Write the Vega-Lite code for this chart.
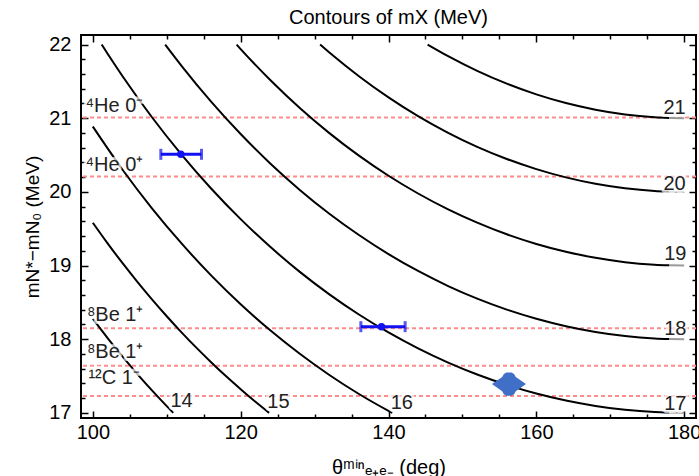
{
  "$schema": "https://vega.github.io/schema/vega-lite/v6.json",
  "width": 615,
  "height": 383,
  "autosize": "none",
  "padding": {"left": 81, "top": 35, "right": 3, "bottom": 58},
  "title": {"text": "Contours of mX (MeV)", "font": "Liberation Sans", "fontSize": 20, "fontWeight": "normal", "color": "black", "offset": 6, "anchor": "middle"},
  "config": {"view": {"stroke": "black", "strokeWidth": 2}},
  "datasets": {
    "levels": [
      {"state": "4He 0-", "E": 21.01},
      {"state": "4He 0+", "E": 20.21},
      {"state": "8Be 1+ a", "E": 18.15},
      {"state": "8Be 1+ b", "E": 17.64},
      {"state": "12C 1-", "E": 17.23}
    ],
    "curves": [
      {"m": 14, "part": "a", "theta": 100, "E": 18.276}, {"m": 14, "part": "a", "theta": 102, "E": 18.015}, {"m": 14, "part": "a", "theta": 104, "E": 17.766}, {"m": 14, "part": "a", "theta": 106, "E": 17.530}, {"m": 14, "part": "a", "theta": 108, "E": 17.305}, {"m": 14, "part": "a", "theta": 110, "E": 17.091}, {"m": 14, "part": "a", "theta": 110.88, "E": 17.0},
      {"m": 15, "part": "a", "theta": 100, "E": 19.581}, {"m": 15, "part": "a", "theta": 102, "E": 19.301}, {"m": 15, "part": "a", "theta": 104, "E": 19.035}, {"m": 15, "part": "a", "theta": 106, "E": 18.782}, {"m": 15, "part": "a", "theta": 108, "E": 18.541}, {"m": 15, "part": "a", "theta": 110, "E": 18.312}, {"m": 15, "part": "a", "theta": 112, "E": 18.093}, {"m": 15, "part": "a", "theta": 114, "E": 17.885}, {"m": 15, "part": "a", "theta": 116, "E": 17.688}, {"m": 15, "part": "a", "theta": 118, "E": 17.499}, {"m": 15, "part": "a", "theta": 120, "E": 17.321}, {"m": 15, "part": "a", "theta": 122, "E": 17.150}, {"m": 15, "part": "a", "theta": 123.85, "E": 17.0},
      {"m": 16, "part": "a", "theta": 100, "E": 20.887}, {"m": 16, "part": "a", "theta": 104, "E": 20.304}, {"m": 16, "part": "a", "theta": 108, "E": 19.777}, {"m": 16, "part": "a", "theta": 112, "E": 19.300}, {"m": 16, "part": "a", "theta": 116, "E": 18.867}, {"m": 16, "part": "a", "theta": 120, "E": 18.475}, {"m": 16, "part": "a", "theta": 124, "E": 18.121}, {"m": 16, "part": "a", "theta": 128, "E": 17.802}, {"m": 16, "part": "a", "theta": 132, "E": 17.514}, {"m": 16, "part": "a", "theta": 136, "E": 17.256}, {"m": 16, "part": "a", "theta": 140, "E": 17.027}, {"m": 16, "part": "a", "theta": 140.5, "E": 17.0},
      {"m": 17, "part": "a", "theta": 101.2, "E": 22.0}, {"m": 17, "part": "a", "theta": 102, "E": 21.875}, {"m": 17, "part": "a", "theta": 104, "E": 21.573}, {"m": 17, "part": "a", "theta": 108, "E": 21.013}, {"m": 17, "part": "a", "theta": 112, "E": 20.506}, {"m": 17, "part": "a", "theta": 116, "E": 20.046}, {"m": 17, "part": "a", "theta": 120, "E": 19.630}, {"m": 17, "part": "a", "theta": 124, "E": 19.254}, {"m": 17, "part": "a", "theta": 128, "E": 18.914}, {"m": 17, "part": "a", "theta": 132, "E": 18.609}, {"m": 17, "part": "a", "theta": 136, "E": 18.335}, {"m": 17, "part": "a", "theta": 140, "E": 18.091}, {"m": 17, "part": "a", "theta": 144, "E": 17.875}, {"m": 17, "part": "a", "theta": 148, "E": 17.685}, {"m": 17, "part": "a", "theta": 152, "E": 17.520}, {"m": 17, "part": "a", "theta": 156, "E": 17.380}, {"m": 17, "part": "a", "theta": 160, "E": 17.262}, {"m": 17, "part": "a", "theta": 164, "E": 17.167}, {"m": 17, "part": "a", "theta": 168, "E": 17.094}, {"m": 17, "part": "a", "theta": 172, "E": 17.041}, {"m": 17, "part": "a", "theta": 176, "E": 17.010}, {"m": 17, "part": "a", "theta": 178, "E": 17.003}, {"m": 17, "part": "b", "theta": 178, "E": 17.003}, {"m": 17, "part": "b", "theta": 180, "E": 17.0},
      {"m": 18, "part": "a", "theta": 109.79, "E": 22.0}, {"m": 18, "part": "a", "theta": 112, "E": 21.712}, {"m": 18, "part": "a", "theta": 116, "E": 21.225}, {"m": 18, "part": "a", "theta": 120, "E": 20.785}, {"m": 18, "part": "a", "theta": 124, "E": 20.386}, {"m": 18, "part": "a", "theta": 128, "E": 20.027}, {"m": 18, "part": "a", "theta": 132, "E": 19.703}, {"m": 18, "part": "a", "theta": 136, "E": 19.414}, {"m": 18, "part": "a", "theta": 140, "E": 19.155}, {"m": 18, "part": "a", "theta": 144, "E": 18.926}, {"m": 18, "part": "a", "theta": 148, "E": 18.725}, {"m": 18, "part": "a", "theta": 152, "E": 18.551}, {"m": 18, "part": "a", "theta": 156, "E": 18.402}, {"m": 18, "part": "a", "theta": 160, "E": 18.278}, {"m": 18, "part": "a", "theta": 164, "E": 18.177}, {"m": 18, "part": "a", "theta": 168, "E": 18.099}, {"m": 18, "part": "a", "theta": 172, "E": 18.044}, {"m": 18, "part": "a", "theta": 176, "E": 18.011}, {"m": 18, "part": "a", "theta": 178, "E": 18.003}, {"m": 18, "part": "b", "theta": 178, "E": 18.003}, {"m": 18, "part": "b", "theta": 180, "E": 18.0},
      {"m": 19, "part": "a", "theta": 119.45, "E": 22.0}, {"m": 19, "part": "a", "theta": 120, "E": 21.939}, {"m": 19, "part": "a", "theta": 124, "E": 21.519}, {"m": 19, "part": "a", "theta": 128, "E": 21.139}, {"m": 19, "part": "a", "theta": 132, "E": 20.798}, {"m": 19, "part": "a", "theta": 136, "E": 20.492}, {"m": 19, "part": "a", "theta": 140, "E": 20.219}, {"m": 19, "part": "a", "theta": 144, "E": 19.978}, {"m": 19, "part": "a", "theta": 148, "E": 19.766}, {"m": 19, "part": "a", "theta": 152, "E": 19.582}, {"m": 19, "part": "a", "theta": 156, "E": 19.424}, {"m": 19, "part": "a", "theta": 160, "E": 19.293}, {"m": 19, "part": "a", "theta": 164, "E": 19.187}, {"m": 19, "part": "a", "theta": 168, "E": 19.105}, {"m": 19, "part": "a", "theta": 172, "E": 19.046}, {"m": 19, "part": "a", "theta": 176, "E": 19.012}, {"m": 19, "part": "a", "theta": 178, "E": 19.003}, {"m": 19, "part": "b", "theta": 178, "E": 19.003}, {"m": 19, "part": "b", "theta": 180, "E": 19.0},
      {"m": 20, "part": "a", "theta": 130.75, "E": 22.0}, {"m": 20, "part": "a", "theta": 132, "E": 21.893}, {"m": 20, "part": "a", "theta": 136, "E": 21.571}, {"m": 20, "part": "a", "theta": 140, "E": 21.284}, {"m": 20, "part": "a", "theta": 144, "E": 21.029}, {"m": 20, "part": "a", "theta": 148, "E": 20.806}, {"m": 20, "part": "a", "theta": 152, "E": 20.612}, {"m": 20, "part": "a", "theta": 156, "E": 20.447}, {"m": 20, "part": "a", "theta": 160, "E": 20.309}, {"m": 20, "part": "a", "theta": 164, "E": 20.197}, {"m": 20, "part": "a", "theta": 168, "E": 20.110}, {"m": 20, "part": "a", "theta": 172, "E": 20.049}, {"m": 20, "part": "a", "theta": 176, "E": 20.012}, {"m": 20, "part": "a", "theta": 178, "E": 20.003}, {"m": 20, "part": "b", "theta": 178, "E": 20.003}, {"m": 20, "part": "b", "theta": 180, "E": 20.0},
      {"m": 21, "part": "a", "theta": 145.29, "E": 22.0}, {"m": 21, "part": "a", "theta": 148, "E": 21.846}, {"m": 21, "part": "a", "theta": 152, "E": 21.643}, {"m": 21, "part": "a", "theta": 156, "E": 21.469}, {"m": 21, "part": "a", "theta": 160, "E": 21.324}, {"m": 21, "part": "a", "theta": 164, "E": 21.206}, {"m": 21, "part": "a", "theta": 168, "E": 21.116}, {"m": 21, "part": "a", "theta": 172, "E": 21.051}, {"m": 21, "part": "a", "theta": 176, "E": 21.013}, {"m": 21, "part": "a", "theta": 178, "E": 21.003}, {"m": 21, "part": "b", "theta": 178, "E": 21.003}, {"m": 21, "part": "b", "theta": 180, "E": 21.0}
    ],
    "labels": [
      {"lab": "14", "theta": 110.5, "E": 17.077},
      {"lab": "15", "theta": 123.6, "E": 17.06},
      {"lab": "16", "theta": 140.3, "E": 17.05},
      {"lab": "17", "theta": 177.3, "E": 17.04},
      {"lab": "18", "theta": 177.3, "E": 18.06},
      {"lab": "19", "theta": 177.3, "E": 19.07},
      {"lab": "20", "theta": 177.2, "E": 20.03},
      {"lab": "21", "theta": 177.2, "E": 21.06},
      {"lab": "⁴He 0⁻", "theta": 99.0, "E": 21.08},
      {"lab": "⁴He 0⁺", "theta": 99.0, "E": 20.29},
      {"lab": "⁸Be 1⁺", "theta": 99.2, "E": 18.25},
      {"lab": "⁸Be 1⁺", "theta": 99.2, "E": 17.74},
      {"lab": "¹²C 1⁻", "theta": 99.4, "E": 17.39}
    ],
    "measurements": [
      {"nucleus": "4He", "theta": 111.9, "E": 20.51, "lo": 109.2, "hi": 114.7},
      {"nucleus": "8Be", "theta": 139.05, "E": 18.17, "lo": 136.26, "hi": 142.25}
    ],
    "carbon": [
      {"nucleus": "12C", "theta": 156.3, "E": 17.39}
    ]
  },
  "resolve": {"axis": {"x": "independent", "y": "independent"}},
  "layer": [
    {
      "data": {"name": "levels"},
      "mark": {"type": "rule", "color": "#ff8c8c", "strokeWidth": 2, "strokeDash": [4, 3]},
      "encoding": {
        "y": {"field": "E", "type": "quantitative", "scale": {"domain": [16.93, 22.13], "nice": false, "zero": false}, "axis": null}
      }
    },
    {
      "data": {"name": "curves"},
      "mark": {"type": "line", "strokeWidth": 2, "interpolate": "monotone", "clip": true},
      "encoding": {
        "x": {"field": "theta", "type": "quantitative", "scale": {"domain": [98.4, 181.6], "nice": false, "zero": false},
          "axis": {"orient": "bottom", "values": [100,105,110,115,120,125,130,135,140,145,150,155,160,165,170,175,180],
            "format": ".0f",
            "labelExpr": "datum.value % 20 === 0 ? datum.label : ''",
            "tickSize": {"condition": {"test": "datum.value % 20 === 0", "value": -7}, "value": -4},
            "domain": false, "grid": false, "tickColor": "black", "tickWidth": 1.5,
            "labelFont": "Liberation Sans", "labelFontSize": 20, "labelColor": "black", "labelPadding": 11, "labelFlush": false, "labelOverlap": false,
            "title": "θᵐⁱⁿₑ₊ₑ₋ (deg)", "titleFont": "Liberation Sans", "titleFontSize": 20, "titleFontWeight": "normal", "titleColor": "black", "titlePadding": 12}},
        "y": {"field": "E", "type": "quantitative", "scale": {"domain": [16.93, 22.13], "nice": false, "zero": false},
          "axis": {"orient": "left", "values": [17,17.2,17.4,17.6,17.8,18,18.2,18.4,18.6,18.8,19,19.2,19.4,19.6,19.8,20,20.2,20.4,20.6,20.8,21,21.2,21.4,21.6,21.8,22],
            "format": ".0f",
            "labelExpr": "abs(datum.value - round(datum.value)) < 0.001 ? datum.label : ''",
            "tickSize": {"condition": {"test": "abs(datum.value - round(datum.value)) < 0.001", "value": -7}, "value": -4},
            "domain": false, "grid": false, "tickColor": "black", "tickWidth": 1.5,
            "labelFont": "Liberation Sans", "labelFontSize": 20, "labelColor": "black", "labelPadding": 17, "labelOverlap": false, "labelFlush": false,
            "title": "mN*−mN₀ (MeV)", "titleFont": "Liberation Sans", "titleFontSize": 19, "titleFontWeight": "normal", "titleColor": "black", "titlePadding": 6}},
        "detail": {"field": "m", "type": "nominal"},
        "color": {"field": "part", "type": "nominal", "scale": {"domain": ["a", "b"], "range": ["black", "#9a9a9a"]}, "legend": null}
      }
    },
    {
      "data": {"name": "labels"},
      "mark": {"type": "text", "align": "left", "baseline": "alphabetic", "font": "Liberation Sans", "fontSize": 20, "fill": "white", "stroke": "white", "strokeWidth": 6, "opacity": 0.7, "strokeJoin": "round"},
      "encoding": {
        "x": {"field": "theta", "type": "quantitative", "axis": null},
        "y": {"field": "E", "type": "quantitative", "axis": null},
        "text": {"field": "lab", "type": "nominal"}
      }
    },
    {
      "data": {"name": "labels"},
      "mark": {"type": "text", "align": "left", "baseline": "alphabetic", "font": "Liberation Sans", "fontSize": 20, "color": "#222222"},
      "encoding": {
        "x": {"field": "theta", "type": "quantitative",
          "axis": {"orient": "top", "values": [100,105,110,115,120,125,130,135,140,145,150,155,160,165,170,175,180],
            "labels": false, "title": null, "domain": false, "grid": false, "tickColor": "black", "tickWidth": 1.5,
            "tickSize": {"condition": {"test": "datum.value % 20 === 0", "value": -7}, "value": -4}}},
        "y": {"field": "E", "type": "quantitative",
          "axis": {"orient": "right", "values": [17,17.2,17.4,17.6,17.8,18,18.2,18.4,18.6,18.8,19,19.2,19.4,19.6,19.8,20,20.2,20.4,20.6,20.8,21,21.2,21.4,21.6,21.8,22],
            "labels": false, "title": null, "domain": false, "grid": false, "tickColor": "black", "tickWidth": 1.5,
            "tickSize": {"condition": {"test": "abs(datum.value - round(datum.value)) < 0.001", "value": -7}, "value": -4}}},
        "text": {"field": "lab", "type": "nominal"}
      }
    },
    {
      "data": {"name": "measurements"},
      "mark": {"type": "rule", "color": "#1010f0", "strokeWidth": 3},
      "encoding": {
        "x": {"field": "lo", "type": "quantitative", "axis": null},
        "x2": {"field": "hi"},
        "y": {"field": "E", "type": "quantitative", "axis": null}
      }
    },
    {
      "data": {"name": "measurements"},
      "mark": {"type": "tick", "orient": "vertical", "color": "#1010f0", "thickness": 3, "size": 11},
      "encoding": {
        "x": {"field": "lo", "type": "quantitative", "axis": null},
        "y": {"field": "E", "type": "quantitative", "axis": null}
      }
    },
    {
      "data": {"name": "measurements"},
      "mark": {"type": "tick", "orient": "vertical", "color": "#1010f0", "thickness": 3, "size": 11},
      "encoding": {
        "x": {"field": "hi", "type": "quantitative", "axis": null},
        "y": {"field": "E", "type": "quantitative", "axis": null}
      }
    },
    {
      "data": {"name": "measurements"},
      "mark": {"type": "point", "shape": "circle", "filled": true, "color": "#1010f0", "size": 55, "opacity": 1},
      "encoding": {
        "x": {"field": "theta", "type": "quantitative", "axis": null},
        "y": {"field": "E", "type": "quantitative", "axis": null}
      }
    },
    {
      "data": {"name": "carbon"},
      "mark": {"type": "point", "filled": true, "color": "#3f6fc6", "opacity": 1, "size": 1156,
        "shape": "M-1,0L-0.4,-0.42L-0.3,-0.6L-0.15,-0.69L0.15,-0.69L0.3,-0.6L0.4,-0.42L1,0L0.4,0.42L0.3,0.6L0.15,0.69L-0.15,0.69L-0.3,0.6L-0.4,0.42Z"},
      "encoding": {
        "x": {"field": "theta", "type": "quantitative", "axis": null},
        "y": {"field": "E", "type": "quantitative", "axis": null}
      }
    }
  ]
}
